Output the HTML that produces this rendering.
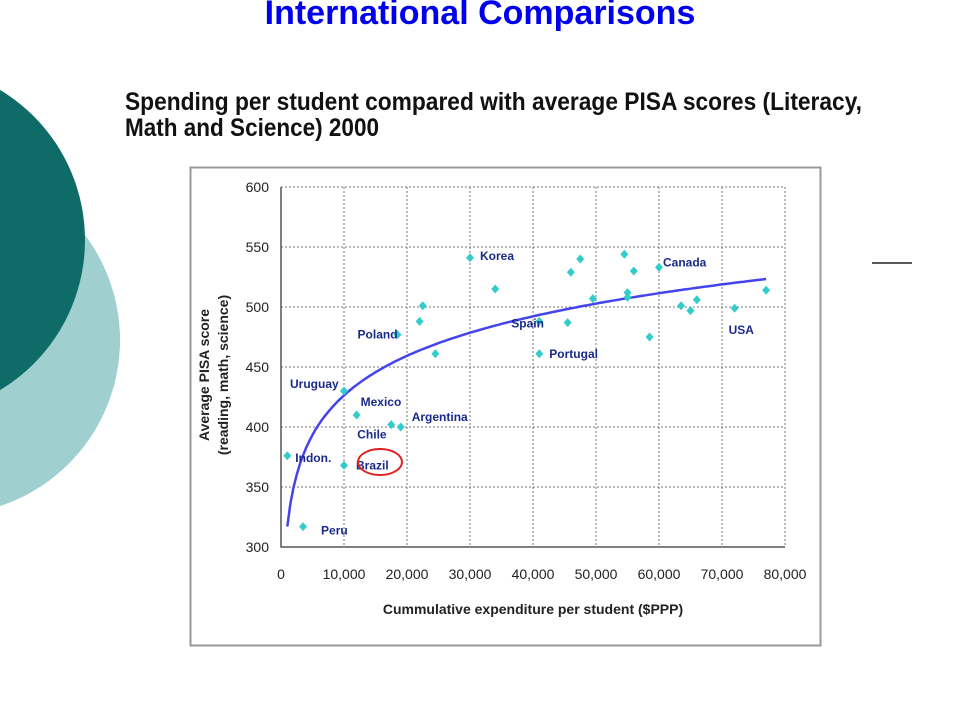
<!DOCTYPE html>
<html><head><meta charset="utf-8"><style>
html,body{margin:0;padding:0;background:#fff;width:960px;height:720px;overflow:hidden}
svg{display:block;font-family:"Liberation Sans",Arial,sans-serif}
</style></head><body>
<svg width="960" height="720" viewBox="0 0 960 720">
<circle cx="-55" cy="340" r="175" fill="#9fcfcf"/>
<circle cx="-90" cy="240" r="175" fill="#0f6b67"/>
<text x="480" y="24" text-anchor="middle" font-size="34" font-weight="bold" fill="#0000ee">International Comparisons</text>
<text x="125" y="110" font-size="25" font-weight="bold" fill="#111" textLength="737" lengthAdjust="spacingAndGlyphs">Spending per student compared with average PISA scores (Literacy,</text>
<text x="125" y="136" font-size="25" font-weight="bold" fill="#111" textLength="254" lengthAdjust="spacingAndGlyphs">Math and Science) 2000</text>
<line x1="872" y1="263" x2="912" y2="263" stroke="#222" stroke-width="1.5"/>
<rect x="190.5" y="167.5" width="630" height="478" fill="#fff" stroke="#999" stroke-width="2"/>
<g id="chart"></g>
</svg>
<script>
const xTicks=[0,10000,20000,30000,40000,50000,60000,70000,80000];
const yTicks=[300,350,400,450,500,550,600];
const countries=["Indon.","Peru","Uruguay","Brazil","Mexico","Chile","Argentina","Poland","","","","Korea","","Spain","","Portugal","","","","","","","","","Canada","","","","USA",""];
const spending=[1000,3500,10000,10000,12000,17500,19000,18500,22000,22500,24500,30000,34000,41000,45500,41000,46000,47500,49500,54500,55000,55000,56000,58500,60000,63500,65000,66000,72000,77000];
const scores=[376,317,430,368,410,402,400,477,488,501,461,541,515,488,487,461,529,540,507,544,512,508,530,475,533,501,497,506,499,514];
const trendA=317, trendB=47.5;
const x0=281,x1=785,y0=547,y1=187;
const X=v=>x0+(v-0)/(80000)*(x1-x0);
const Y=v=>y0-(v-300)/300*(y0-y1);
const g=document.getElementById('chart');
const NS='http://www.w3.org/2000/svg';
function mk(t,a){const e=document.createElementNS(NS,t);for(const k in a)e.setAttribute(k,a[k]);g.appendChild(e);return e;}
xTicks.forEach(v=>{
 if(v>0){const l=mk('line',{x1:X(v),y1:y1,x2:X(v),y2:y0,stroke:'#777','stroke-dasharray':'2,2'});
 
 }
 const t=mk('text',{x:X(v),y:y0+32,'text-anchor':'middle','font-size':'14',fill:'#222'});
 t.textContent=v.toLocaleString('en-US');
 
 
});
yTicks.forEach(v=>{
 if(v>300){const l=mk('line',{x1:x0,y1:Y(v),x2:x1,y2:Y(v),stroke:'#777','stroke-dasharray':'2,2'});
 
 }
 const t=mk('text',{x:x0-12,y:Y(v)+5,'text-anchor':'end','font-size':'14',fill:'#222'});
 t.textContent=v;
 
 
});
const ax=mk('path',{d:`M${x0},${y1}V${y0}H${x1}`,stroke:'#555',fill:'none','stroke-width':1.5});


let d='';for(let v=1000;v<=77000;v+=500){d+=(d?'L':'M')+X(v).toFixed(1)+','+Y(trendA+trendB*Math.log(v/1000)).toFixed(1);}
const tr=mk('path',{d:d,stroke:'#4444ee',fill:'none','stroke-width':2.5});


spending.forEach((s,i)=>{
 const cx=X(s),cy=Y(scores[i]);
 const p=mk('path',{d:`M${cx},${cy-4.5}L${cx+4},${cy}L${cx},${cy+4.5}L${cx-4},${cy}Z`,fill:'#33cccc'});
 
 
});
const lbl={"Indon.":[8,2],"Peru":[18,4],"Uruguay":[-54,-7],"Brazil":[12,0],"Mexico":[4,-13],"Chile":[-34,10],"Argentina":[11,-10],"Poland":[-40,0],"Korea":[10,-2],"Spain":[-28,2],"Portugal":[10,0],"Canada":[4,-5],"USA":[-6,22]};
countries.forEach((c,i)=>{
 if(!c)return;const o=lbl[c];
 const t=mk('text',{x:X(spending[i])+o[0],y:Y(scores[i])+o[1]+4,'font-size':'12','font-weight':'bold',fill:'#1a2a8a'});
 t.textContent=c;
 
 
});
const el=mk('ellipse',{cx:380,cy:462,rx:22,ry:13,fill:'none',stroke:'#e02020','stroke-width':2});


const xt=mk('text',{x:533,y:614,'text-anchor':'middle','font-size':'14','font-weight':'bold',fill:'#222'});
xt.textContent='Cummulative expenditure per student ($PPP)';


const yt=mk('text',{x:0,y:0,'text-anchor':'middle','font-size':'14','font-weight':'bold',fill:'#222',transform:'translate(209,375) rotate(-90)'});
yt.textContent='Average PISA score';


const yt2=mk('text',{x:0,y:0,'text-anchor':'middle','font-size':'14','font-weight':'bold',fill:'#222',transform:'translate(228,375) rotate(-90)'});
yt2.textContent='(reading, math, science)';


</script>
</body></html>
